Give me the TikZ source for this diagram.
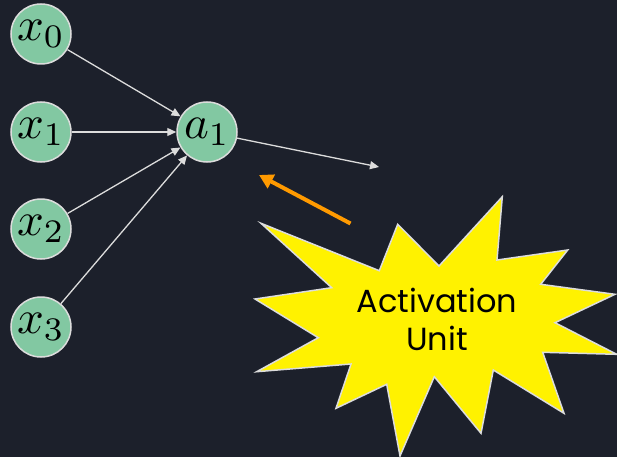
\documentclass[tikz,border=0pt]{standalone}
\usepackage{graphicx}
\usepackage{fontspec}
\newfontfamily\popfont{Poppins}
\usetikzlibrary{arrows.meta}
\definecolor{bgc}{HTML}{1C202B}
\definecolor{mint}{HTML}{82C8A2}
\definecolor{rim}{HTML}{DCDCDC}
\definecolor{orng}{HTML}{FF9A00}
\newcommand{\nrnlabel}[1]{\scalebox{4.7}{$#1$}}
\tikzset{
  neuron/.style={circle, fill=mint, draw=rim, line width=1.5pt, minimum size=60pt, inner sep=0pt},
  wire/.style={draw=rim, line width=1.3pt, -{Triangle[length=9pt,width=8pt]}},
  pointer/.style={draw=orng, line width=4pt, -{Triangle[length=14pt,width=15pt]}},
}
\begin{document}
\begin{tikzpicture}[x=1pt,y=-1pt]
\fill[bgc] (0,0) rectangle (617,457);
\useasboundingbox (0,0) rectangle (617,457);
\node[neuron] (x0) at (41,34) {\nrnlabel{x_0}};
\node[neuron] (x1) at (41,132) {\nrnlabel{x_1}};
\node[neuron] (x2) at (41,229) {\nrnlabel{x_2}};
\node[neuron] (x3) at (41,327) {\nrnlabel{x_3}};
\node[neuron] (a1) at (207,132) {\nrnlabel{a_1}};
\coordinate (out) at (379,167);
\draw[wire] (x0) -- (a1);
\draw[wire] (x1) -- (a1);
\draw[wire] (x2) -- (a1);
\draw[wire] (x3) -- (a1);
\draw[wire] (a1) -- (out);
\fill[yellow, draw=rim, line width=1.5pt, line join=miter]
  (261,223.3) -- (379.3,270.7) -- (397.7,224.3) -- (439,266) -- (502.3,196.7) -- (497,260)
  -- (567.7,250) -- (540.7,284.3) -- (615,294.3) -- (555,322.7) -- (616.7,354.3) -- (542.7,352.3)
  -- (564,413.3) -- (493.3,370) -- (481,433.3) -- (434.3,376.7) -- (400,456) -- (386.7,384.3)
  -- (336,408.3) -- (351,364) -- (256.7,371.7) -- (318.3,337.7) -- (255,299) -- (331.7,287.7) -- cycle;
\node[align=center, font=\popfont\fontsize{32}{38}\selectfont, text=black] (lbl) at (437,319) {Activation\\Unit};
\coordinate (ptail) at (350.5,223.5);
\coordinate (phead) at (259,175);
\draw[pointer] (ptail) -- (phead);
\end{tikzpicture}
\end{document}
